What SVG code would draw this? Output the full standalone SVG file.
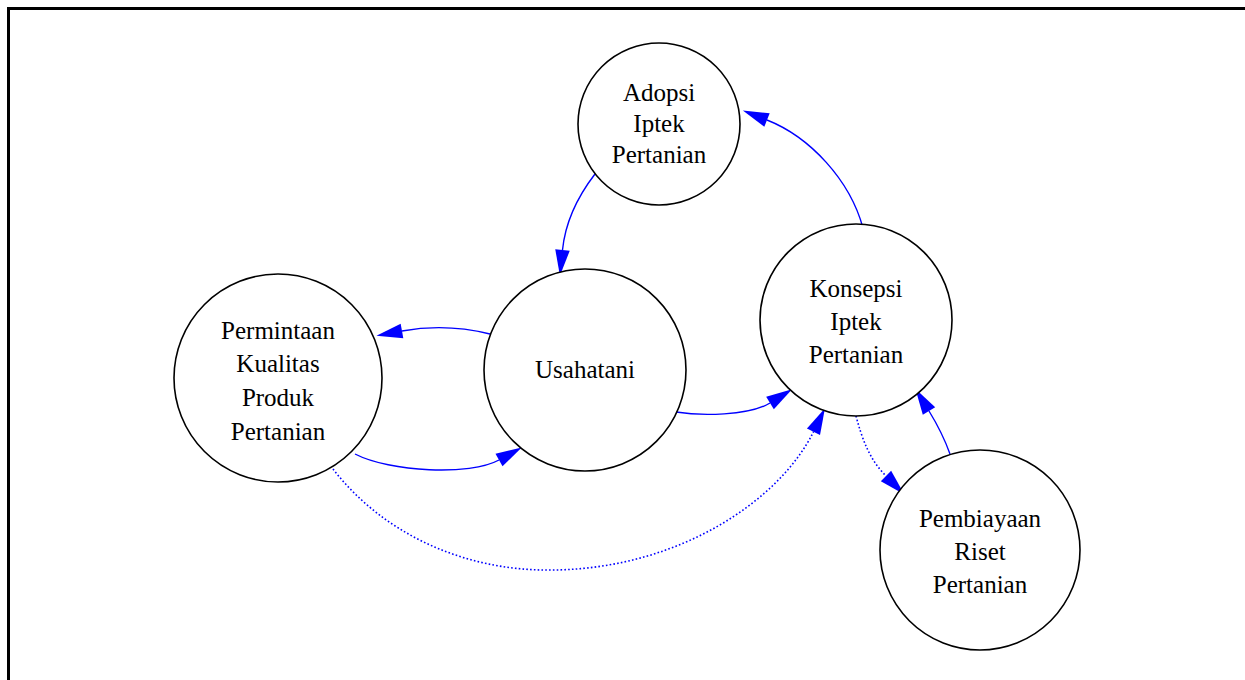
<svg xmlns="http://www.w3.org/2000/svg" width="1245" height="680" viewBox="0 0 1245 680">
<style>
.node circle{fill:#fff;stroke:#000;stroke-width:1.6}
.node text{font-family:"Liberation Serif","Times New Roman",serif;font-size:25px;fill:#000;text-anchor:middle}
.edge{fill:none;stroke:#0000ff;stroke-width:1.4}
.dot{stroke-dasharray:1.6,2.2;stroke-width:1.6}
</style>
<defs>
<marker id="arr" markerUnits="userSpaceOnUse" markerWidth="26" markerHeight="15" refX="0" refY="7" orient="auto" viewBox="0 0 25 14" overflow="visible">
<path d="M0,0 L25,7 L0,14 z" fill="#0000ff"/>
</marker>
</defs>
<rect x="0" y="0" width="1245" height="680" fill="#fff"/>
<rect x="8.5" y="8.5" width="1250" height="690" fill="none" stroke="#000" stroke-width="3"/>
<g id="connectors">
<path class="edge" d="M595,174 C575,200 565,225 562.5,250" marker-end="url(#arr)"/>
<path class="edge" d="M490,334 C470,329 440,324 402,331" marker-end="url(#arr)"/>
<path class="edge" d="M355,454 C390,472 470,476 499,460" marker-end="url(#arr)"/>
<path class="edge" d="M676,412 C700,416 749,416 770,403" marker-end="url(#arr)"/>
<path class="edge dot" d="M333,469 C380,530 460,572 555,570 C680,568 780,500 813.5,431.7" marker-end="url(#arr)"/>
<path class="edge dot" d="M855,412 C862,440 870,460 886,476" marker-end="url(#arr)"/>
<path class="edge" d="M950,454 C945,440 937,424 929,411" marker-end="url(#arr)"/>
<path class="edge" d="M863,228 C850,180 810,137 767,120" marker-end="url(#arr)"/>
</g>
<g id="adopsi" class="node">
<circle cx="659" cy="124" r="81"/>
<text x="659" y="101">Adopsi</text>
<text x="659" y="132">Iptek</text>
<text x="659" y="163">Pertanian</text>
</g>
<g id="usahatani" class="node">
<circle cx="585" cy="370" r="101"/>
<text x="585" y="378">Usahatani</text>
</g>
<g id="permintaan" class="node">
<circle cx="278" cy="378" r="104"/>
<text x="278" y="339">Permintaan</text>
<text x="278" y="372">Kualitas</text>
<text x="278" y="406">Produk</text>
<text x="278" y="440">Pertanian</text>
</g>
<g id="konsepsi" class="node">
<circle cx="856" cy="320" r="96"/>
<text x="856" y="297">Konsepsi</text>
<text x="856" y="330">Iptek</text>
<text x="856" y="363">Pertanian</text>
</g>
<g id="pembiayaan" class="node">
<circle cx="980" cy="550" r="100"/>
<text x="980" y="527">Pembiayaan</text>
<text x="980" y="560">Riset</text>
<text x="980" y="593">Pertanian</text>
</g>
</svg>
